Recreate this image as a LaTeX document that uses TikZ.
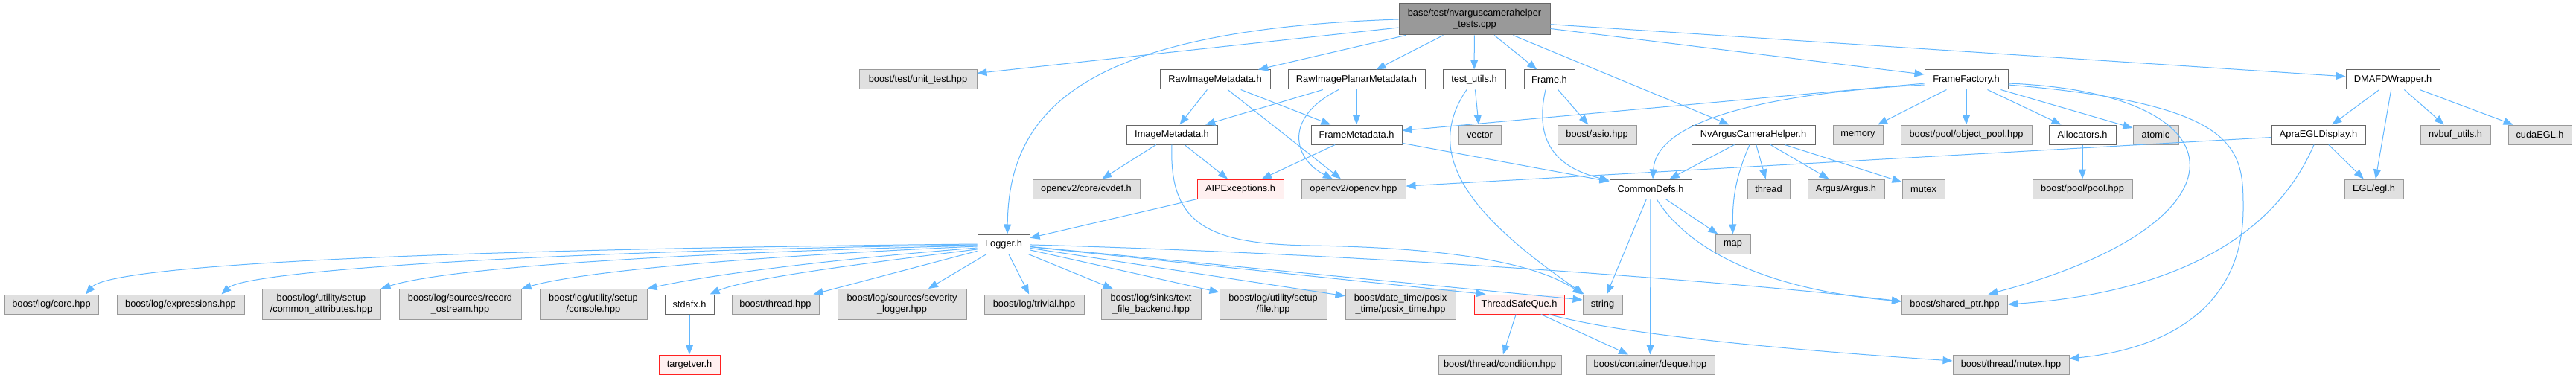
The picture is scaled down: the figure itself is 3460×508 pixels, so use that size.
\documentclass[tikz,border=0pt]{standalone}
\usepackage{fontspec}
\setmainfont{Liberation Sans}
\usepackage{tikz}
\usetikzlibrary{arrows.meta,positioning}
\definecolor{edgeblue}{HTML}{63B8FF}
\definecolor{maingray}{HTML}{999999}
\definecolor{docgray}{HTML}{666666}
\definecolor{extgray}{HTML}{999999}
\definecolor{extfill}{HTML}{E0E0E0}
\definecolor{errred}{HTML}{FF2020}
\definecolor{errfill}{HTML}{FFF0F0}

\begin{document}
\begin{tikzpicture}[x=1pt,y=-1pt,
box/.style={draw,line width=1pt,minimum height=26pt,inner sep=0pt,align=center,
font=\fontsize{12.8}{15}\selectfont},
mainbox/.style={box,draw=docgray,fill=maingray,minimum height=42pt},
docbox/.style={box,draw=docgray,fill=white},
extbox/.style={box,draw=extgray,fill=extfill},
errbox/.style={box,draw=errred,fill=errfill},
tall/.style={minimum height=41pt},
arr/.style={-{Triangle[length=13pt,width=10pt]},line width=1pt,edgeblue}
]
\path[use as bounding box,fill=white] (0,0) rectangle (3460,508);
\node[mainbox,minimum width=203pt] (main) at (1980.5,26) {base/test/nvarguscamerahelper\\\_tests.cpp};
\node[extbox,minimum width=158pt] (unittest) at (1233,107) {boost/test/unit\_test.hpp};
\node[docbox,minimum width=148pt] (rawmeta) at (1632,107) {RawImageMetadata.h};
\node[docbox,minimum width=184pt] (rawplanar) at (1822,107) {RawImagePlanarMetadata.h};
\node[docbox,minimum width=84pt] (testutils) at (1980,107) {test\_utils.h};
\node[docbox,minimum width=68pt] (frame) at (2081,107) {Frame.h};
\node[docbox,minimum width=112pt] (framefactory) at (2641,107) {FrameFactory.h};
\node[docbox,minimum width=126pt] (dmafd) at (3214,107) {DMAFDWrapper.h};
\node[docbox,minimum width=122pt] (imagemeta) at (1574,181) {ImageMetadata.h};
\node[docbox,minimum width=122pt] (framemeta) at (1822,181) {FrameMetadata.h};
\node[extbox,minimum width=57pt] (vector) at (1987.5,181) {vector};
\node[extbox,minimum width=106pt] (asio) at (2145,181) {boost/asio.hpp};
\node[docbox,minimum width=166pt] (nvargus) at (2355,181) {NvArgusCameraHelper.h};
\node[extbox,minimum width=67pt] (memory) at (2495.5,181) {memory};
\node[extbox,minimum width=176pt] (objpool) at (2641,181) {boost/pool/object\_pool.hpp};
\node[docbox,minimum width=90pt] (allocators) at (2797,181) {Allocators.h};
\node[extbox,minimum width=61pt] (atomic) at (2895.5,181) {atomic};
\node[docbox,minimum width=126pt] (apraegl) at (3114,181) {ApraEGLDisplay.h};
\node[extbox,minimum width=94pt] (nvbuf) at (3298,181) {nvbuf\_utils.h};
\node[extbox,minimum width=85pt] (cudaegl) at (3411.5,181) {cudaEGL.h};
\node[extbox,minimum width=144pt] (cvdef) at (1459,254) {opencv2/core/cvdef.h};
\node[errbox,minimum width=116pt] (aipexc) at (1666,254) {AIPExceptions.h};
\node[extbox,minimum width=140pt] (opencv) at (1818,254) {opencv2/opencv.hpp};
\node[docbox,minimum width=110pt] (commondefs) at (2217,254) {CommonDefs.h};
\node[extbox,minimum width=57pt] (thread) at (2375.5,254) {thread};
\node[extbox,minimum width=103pt] (argus) at (2479.5,254) {Argus/Argus.h};
\node[extbox,minimum width=57pt] (mutex) at (2583.5,254) {mutex};
\node[extbox,minimum width=134pt] (pool) at (2797,254) {boost/pool/pool.hpp};
\node[extbox,minimum width=79pt] (eglh) at (3188.5,254) {EGL/egl.h};
\node[docbox,minimum width=70pt] (logger) at (1348,328) {Logger.h};
\node[extbox,minimum width=47pt] (map) at (2327.5,328) {map};
\node[extbox,minimum width=126pt] (logcore) at (69,409) {boost/log/core.hpp};
\node[extbox,minimum width=171pt] (logexpr) at (242.5,409) {boost/log/expressions.hpp};
\node[extbox,tall,minimum width=159pt] (logcommon) at (431.5,409) {boost/log/utility/setup\\/common\_attributes.hpp};
\node[extbox,tall,minimum width=164pt] (logrecord) at (618,409) {boost/log/sources/record\\\_ostream.hpp};
\node[extbox,tall,minimum width=144pt] (logconsole) at (797,409) {boost/log/utility/setup\\/console.hpp};
\node[docbox,minimum width=66pt] (stdafx) at (926,409) {stdafx.h};
\node[extbox,minimum width=117pt] (boostthread) at (1041.5,409) {boost/thread.hpp};
\node[extbox,tall,minimum width=173pt] (logseverity) at (1211.5,409) {boost/log/sources/severity\\\_logger.hpp};
\node[extbox,minimum width=134pt] (logtrivial) at (1389,409) {boost/log/trivial.hpp};
\node[extbox,tall,minimum width=134pt] (logtextfile) at (1546,409) {boost/log/sinks/text\\\_file\_backend.hpp};
\node[extbox,tall,minimum width=144pt] (logfile) at (1710,409) {boost/log/utility/setup\\/file.hpp};
\node[extbox,tall,minimum width=148pt] (posixtime) at (1881,409) {boost/date\_time/posix\\\_time/posix\_time.hpp};
\node[errbox,minimum width=121pt] (threadsafeque) at (2040.5,409) {ThreadSafeQue.h};
\node[extbox,minimum width=53pt] (string) at (2152.5,409) {string};
\node[extbox,minimum width=142pt] (sharedptr) at (2625.5,409) {boost/shared\_ptr.hpp};
\node[errbox,minimum width=82pt] (targetver) at (926,490) {targetver.h};
\node[extbox,minimum width=165pt] (condition) at (2014.5,490) {boost/thread/condition.hpp};
\node[extbox,minimum width=173pt] (deque) at (2216.5,490) {boost/container/deque.hpp};
\node[extbox,minimum width=156pt] (threadmutex) at (2701,490) {boost/thread/mutex.hpp};

\draw[arr] (main.west) .. controls (1450,40) and (1355,150) .. ([xshift=5pt]logger.north);
\draw[arr] (main) -- (unittest);
\draw[arr] (main) -- (rawmeta);
\draw[arr] (main) -- (rawplanar);
\draw[arr] (main) -- (testutils);
\draw[arr] (main) -- (frame);
\draw[arr] (main) -- (nvargus);
\draw[arr] (main) -- (framefactory);
\draw[arr] (main) -- (dmafd);
\draw[arr] (rawmeta) -- (imagemeta);
\draw[arr] (rawmeta) -- (opencv);
\draw[arr] (rawmeta) -- (framemeta);
\draw[arr] (rawplanar) -- (imagemeta);
\draw[arr] ([xshift=-24pt]rawplanar.south) .. controls (1720,160) and (1740,215) .. ([xshift=-28pt]opencv.north);
\draw[arr] (rawplanar) -- (framemeta);
\draw[arr] (testutils) -- (vector);
\draw[arr] ([xshift=-10pt]testutils.south) .. controls (1905,215) and (1990,300) .. ([xshift=2pt]string.north west);
\draw[arr] (frame) -- (asio);
\draw[arr] ([xshift=-5pt]frame.south) .. controls (2060,190) and (2090,225) .. ([yshift=-2pt]commondefs.north west);
\draw[arr] (imagemeta) -- (cvdef);
\draw[arr] (imagemeta) -- (aipexc);
\draw[arr] (imagemeta.south) .. controls (1570,300) and (1620,328) .. (1760,330) .. controls (1900,332) and (2050,345) .. (string.north west);
\draw[arr] (framemeta) -- (aipexc);
\draw[arr] (framemeta) -- (commondefs);
\draw[arr] (framefactory) -- (framemeta);
\draw[arr] ([yshift=-7pt]framefactory.west) .. controls (2380,125) and (2225,160) .. ([xshift=3pt]commondefs.north);
\draw[arr] (framefactory) -- (memory);
\draw[arr] (framefactory) -- (objpool);
\draw[arr] (framefactory) -- (allocators);
\draw[arr] (framefactory) -- (atomic);
\draw[arr] ([yshift=-5pt]framefactory.east) .. controls (3020,125) and (3030,300) .. ([xshift=45pt]sharedptr.north);
\draw[arr] ([yshift=-7pt]framefactory.east) .. controls (3010,140) and (3013,200) .. (3013,280) .. controls (3013,420) and (2900,470) .. ([yshift=8pt]threadmutex.east);
\draw[arr] (nvargus) -- (commondefs);
\draw[arr] ([xshift=-5pt]nvargus.south) .. controls (2330,240) and (2327,270) .. (map);
\draw[arr] (nvargus) -- (thread);
\draw[arr] (nvargus) -- (argus);
\draw[arr] (nvargus) -- (mutex);
\draw[arr] (commondefs) -- (map);
\draw[arr] (commondefs) -- (string);
\draw[arr] (commondefs) -- (deque);
\draw[arr] ([xshift=8pt]commondefs.south) .. controls (2270,340) and (2380,390) .. ([yshift=4pt]sharedptr.west);
\draw[arr] (allocators) -- (pool);
\draw[arr] (dmafd) -- (apraegl);
\draw[arr] (dmafd) -- (eglh);
\draw[arr] (dmafd) -- (nvbuf);
\draw[arr] (dmafd) -- (cudaegl);
\draw[arr] (apraegl) -- (opencv);
\draw[arr] (apraegl) -- (eglh);
\draw[arr] ([xshift=-6pt]apraegl.south) .. controls (3050,330) and (2900,395) .. (sharedptr.east);
\draw[arr] (aipexc) -- (logger);
\draw[arr] (logger.west) .. controls (600,335) and (150,355) .. ([xshift=46pt]logcore.north);
\draw[arr] ([yshift=-1pt]logger.west) .. controls (700,338) and (330,365) .. ([xshift=55pt]logexpr.north);
\draw[arr] ([yshift=-2pt]logger.west) .. controls (900,340) and (600,360) .. (logcommon.north east);
\draw[arr] ([yshift=-3pt]logger.west) .. controls (1000,345) and (780,365) .. (logrecord.north east);
\draw[arr] ([yshift=-5pt]logger.west) .. controls (1100,350) and (950,370) .. (logconsole.north east);
\draw[arr] ([yshift=-7pt]logger.west) .. controls (1150,355) and (1000,375) .. ([xshift=-6pt]stdafx.north east);
\draw[arr] (logger) -- (boostthread);
\draw[arr] (logger) -- (logseverity);
\draw[arr] (logger) -- (logtrivial);
\draw[arr] (logger) -- (logtextfile);
\draw[arr] (logger) -- (logfile);
\draw[arr] (logger) -- (posixtime);
\draw[arr] (logger) -- ([xshift=16pt]threadsafeque.north west);
\draw[arr] (logger) -- ([yshift=6pt]string.west);
\draw[arr] (logger) .. controls (1800,340) and (2300,375) .. ([yshift=4pt]sharedptr.west);
\draw[arr] (stdafx) -- (targetver);
\draw[arr] (threadsafeque) -- (condition);
\draw[arr] (threadsafeque) -- (deque);
\draw[arr] ([xshift=40pt]threadsafeque.south) .. controls (2180,450) and (2400,470) .. ([yshift=5pt]threadmutex.west);
\end{tikzpicture}
\end{document}
